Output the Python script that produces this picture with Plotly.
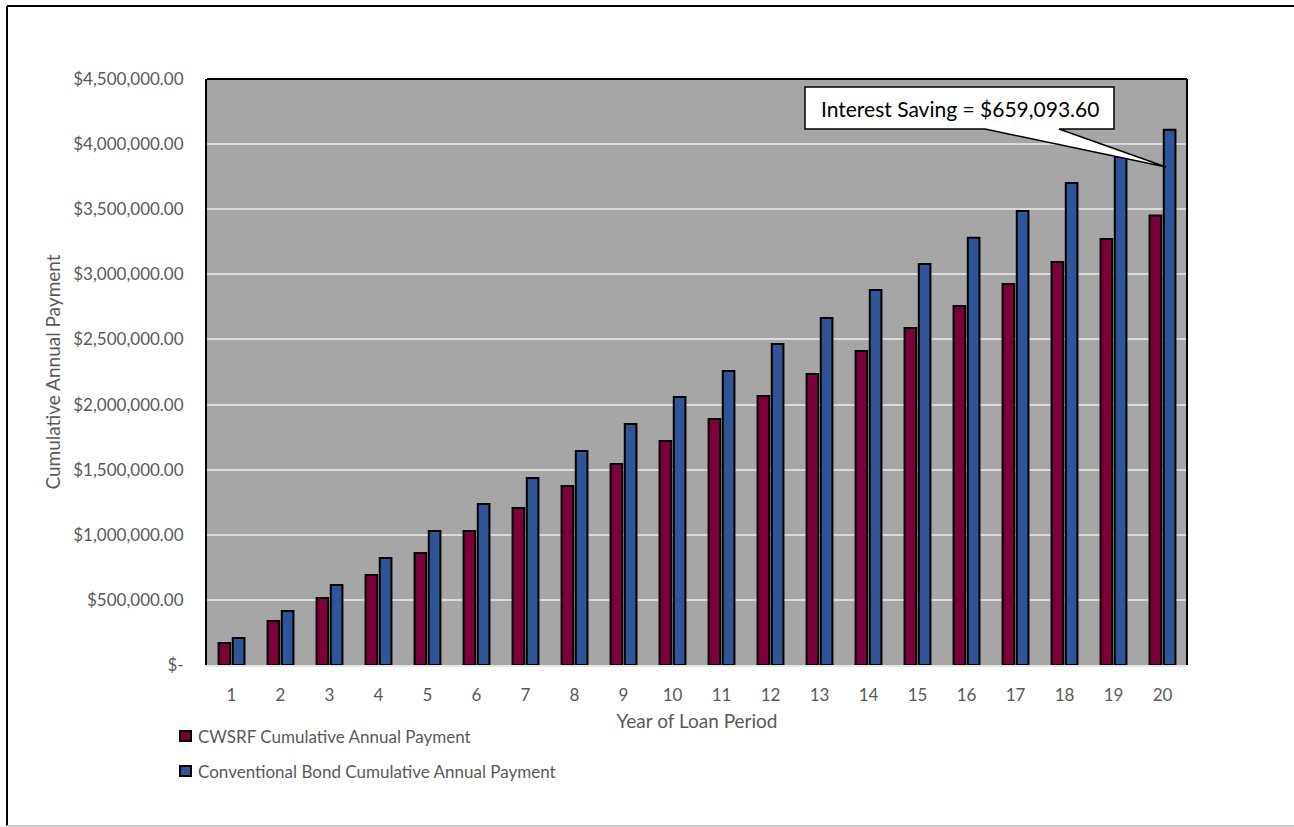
import plotly.graph_objects as go

# Year of the loan period
years = list(range(1, 21))

# Cumulative annual payment totals (USD)
cwsrf_cumulative = [
    169000, 338000, 515000, 691000, 860000, 1029000, 1206000, 1375000, 1544000, 1720000,
    1889000, 2066000, 2235000, 2412000, 2588000, 2757000, 2926000, 3095000, 3272000, 3450900,
]
bond_cumulative = [
    207000, 415000, 614000, 822000, 1029000, 1237000, 1436000, 1644000, 1851000, 2058000,
    2258000, 2465000, 2665000, 2880000, 3080000, 3280000, 3487000, 3702000, 3902000, 4109993.6,
]

series_names = [
    "CWSRF Cumulative Annual Payment",
    "Conventional Bond Cumulative Annual Payment",
]
series_colors = ["#7b003a", "#2f5597"]

y_tick_values = [0, 500000, 1000000, 1500000, 2000000, 2500000, 3000000, 3500000, 4000000, 4500000]
y_tick_labels = [
    "$-", "$500,000.00", "$1,000,000.00", "$1,500,000.00", "$2,000,000.00",
    "$2,500,000.00", "$3,000,000.00", "$3,500,000.00", "$4,000,000.00", "$4,500,000.00",
]

interest_saving = bond_cumulative[-1] - cwsrf_cumulative[-1]

FONT = "Lato"
TEXT_GREY = "#595959"

fig = go.Figure()
for name, values, color in zip(series_names, [cwsrf_cumulative, bond_cumulative], series_colors):
    fig.add_trace(go.Bar(
        x=years, y=values, name=name,
        marker=dict(color=color, line=dict(color="black", width=2)),
        showlegend=False,
    ))


def px_to_paper(px, py):
    # page pixel position -> paper fraction of the plot area
    return (px - 207) / 980, (665 - py) / 586


# Callout box with a pointer wedge toward the final bond bar
pts = [(805, 87), (1114, 87), (1114, 129), (1059, 129), (1166, 167), (985, 129), (805, 129)]
path = "M " + " L ".join(f"{px_to_paper(x, y)[0]:.4f},{px_to_paper(x, y)[1]:.4f}" for x, y in pts) + " Z"
fig.add_shape(type="path", path=path, xref="paper", yref="paper",
              fillcolor="white", line=dict(color="black", width=1.5), layer="above")

cx, cy = px_to_paper(960, 109)
fig.add_annotation(
    x=cx, y=cy, xref="paper", yref="paper", showarrow=False,
    xanchor="center", yanchor="middle",
    text=f"Interest Saving = ${interest_saving:,.2f}",
    font=dict(family=FONT, size=21, color="black"),
)

# Legend drawn below the axis
for i, (name, color) in enumerate(zip(series_names, series_colors)):
    row_y = 736 + 35 * i
    sx0, sy0 = px_to_paper(180, row_y - 5)
    sx1, sy1 = px_to_paper(191, row_y + 5)
    fig.add_shape(type="rect", xref="paper", yref="paper", x0=sx0, y0=sy0, x1=sx1, y1=sy1,
                  fillcolor=color, line=dict(color="black", width=2))
    tx, ty = px_to_paper(196, row_y)
    fig.add_annotation(x=tx, y=ty, xref="paper", yref="paper", showarrow=False,
                       xanchor="left", yanchor="middle", text=name,
                       font=dict(family=FONT, size=17, color=TEXT_GREY))

# Outer chart frame
x0, y0 = px_to_paper(7, 6)
x1, y1 = px_to_paper(1294, 826)
fig.add_shape(type="line", xref="paper", yref="paper", x0=x0, y0=y0, x1=x1, y1=y0,
              line=dict(color="black", width=2))
fig.add_shape(type="line", xref="paper", yref="paper", x0=x0, y0=y0, x1=x0, y1=y1,
              line=dict(color="black", width=2))
fig.add_shape(type="line", xref="paper", yref="paper", x0=x0, y0=y1, x1=x1, y1=y1,
              line=dict(color="#d0d0d0", width=2))

fig.update_layout(
    width=1294, height=827,
    margin=dict(l=207, r=107, t=79, b=162),
    paper_bgcolor="white", plot_bgcolor="#a6a6a6",
    barmode="group", bargap=0.42, bargroupgap=0.18,
    font=dict(family=FONT, color=TEXT_GREY, size=17),
    showlegend=False,
    xaxis=dict(
        range=[0.5, 20.5], tickmode="array", tickvals=years,
        ticktext=[str(y) for y in years], showgrid=False,
        showline=True, linecolor="#e6e6e6", linewidth=2, mirror=False,
        ticklabelstandoff=14, tickfont=dict(size=17, color=TEXT_GREY),
        title=dict(text="Year of Loan Period", font=dict(size=19, color=TEXT_GREY), standoff=10),
        zeroline=False,
    ),
    yaxis=dict(
        range=[0, 4500000], tickmode="array", tickvals=y_tick_values, ticktext=y_tick_labels,
        showgrid=True, gridcolor="#d9d9d9", gridwidth=2,
        showline=True, linecolor="black", linewidth=2,
        ticklabelstandoff=18, tickfont=dict(size=17, color=TEXT_GREY),
        title=dict(text="Cumulative Annual Payment", font=dict(size=19, color=TEXT_GREY), standoff=8),
        zeroline=False,
    ),
)

# Black top and right edges of the plot area
fig.add_shape(type="line", xref="paper", yref="paper", x0=0, y0=1, x1=1, y1=1,
              line=dict(color="black", width=2))
fig.add_shape(type="line", xref="paper", yref="paper", x0=1, y0=0, x1=1, y1=1,
              line=dict(color="black", width=2))

fig.write_html("out.html")
